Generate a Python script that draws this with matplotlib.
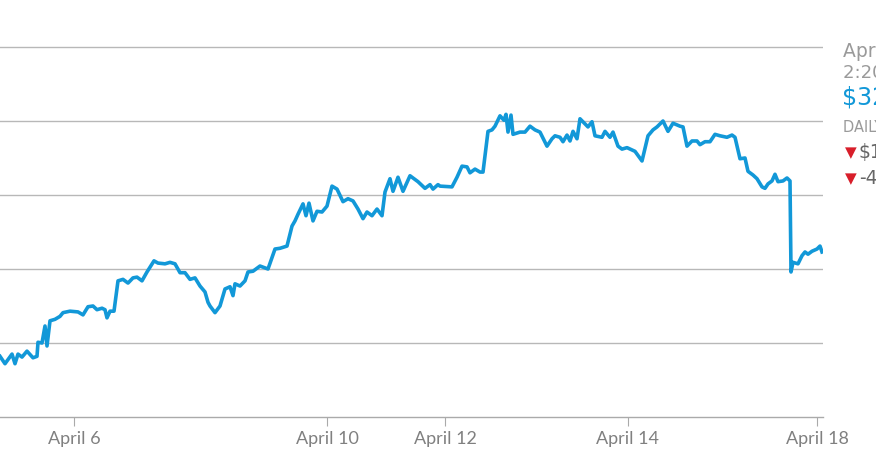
import matplotlib
matplotlib.use("Agg")
import matplotlib.pyplot as plt

# position along the time axis and price
t = [0, 5, 12, 15, 18, 22, 27, 33, 37, 38, 42, 45, 47, 50, 55, 60, 63, 70, 78, 83,
     88, 93, 97, 102, 105, 107, 110, 114, 118, 123, 128, 133, 137, 142, 147, 154, 158, 165, 170, 175,
     180, 185, 190, 195, 200, 205, 208, 210, 215, 220, 225, 230, 233, 235, 240, 245, 248, 253, 260, 268,
     275, 280, 287, 292, 295, 298, 303, 306, 309, 313, 317, 322, 327, 332, 337, 343, 348, 353, 358, 363,
     367, 372, 377, 382, 385, 390, 393, 398, 403, 410, 418, 425, 430, 433, 438, 440, 452, 457, 462, 467,
     470, 475, 480, 483, 488, 492, 495, 500, 504, 506, 508, 511, 513, 520, 525, 530, 535, 540, 547, 552,
     555, 560, 563, 567, 570, 573, 577, 580, 585, 588, 592, 595, 602, 605, 610, 613, 618, 622, 627, 635,
     642, 648, 653, 657, 663, 668, 673, 680, 683, 687, 692, 697, 700, 705, 710, 715, 720, 727, 732, 735,
     740, 745, 748, 753, 757, 762, 765, 768, 772, 775, 778, 783, 787, 790, 791, 793, 798, 802, 805, 808,
     812, 817, 820, 822]
price = [308.2, 307.2, 308.5, 307.2, 308.5, 308.1, 308.9, 308.0, 308.2, 310.1, 310.0, 312.3, 309.6, 313.0, 313.2, 313.6, 314.1, 314.3, 314.2, 313.8,
         314.9, 315.0, 314.5, 314.7, 314.5, 313.4, 314.3, 314.3, 318.4, 318.6, 318.1, 318.8, 318.9, 318.4, 319.6, 321.1, 320.8, 320.7, 320.9, 320.7,
         319.5, 319.5, 318.6, 318.8, 317.7, 316.9, 315.5, 315.0, 314.1, 315.0, 317.3, 317.6, 316.4, 318.0, 317.7, 318.4, 319.6, 319.7, 320.4, 320.0,
         322.7, 322.8, 323.1, 325.8, 326.5, 327.4, 328.8, 327.2, 328.9, 326.5, 327.8, 327.7, 328.5, 331.2, 330.8, 329.1, 329.5, 329.2, 328.1, 326.8,
         327.7, 327.2, 328.1, 327.2, 330.4, 332.2, 330.5, 332.4, 330.5, 332.6, 331.8, 330.9, 331.4, 330.8, 331.4, 331.2, 331.1, 332.4, 333.9, 333.8,
         333.0, 333.5, 333.1, 333.1, 338.6, 338.8, 339.3, 340.7, 340.1, 340.9, 338.5, 340.8, 338.2, 338.5, 338.5, 339.3, 338.8, 338.5, 336.6, 337.6,
         338.0, 337.8, 337.2, 338.1, 337.3, 338.6, 337.6, 340.3, 339.6, 339.2, 339.9, 338.0, 337.8, 338.6, 337.8, 338.5, 336.6, 336.2, 336.4, 335.9,
         334.6, 338.0, 338.8, 339.2, 340.0, 338.6, 339.7, 339.3, 339.2, 336.6, 337.3, 337.3, 336.8, 337.2, 337.2, 338.2, 338.0, 337.8, 338.1, 337.8,
         334.9, 335.0, 333.2, 332.7, 332.2, 331.1, 330.9, 331.5, 331.9, 332.8, 331.8, 331.9, 332.3, 331.9, 319.6, 320.9, 320.7, 321.8, 322.3, 322.0,
         322.4, 322.7, 323.1, 322.3]

tick_pos = [74, 327, 445, 628, 817]
tick_labels = ["April 6", "April 10", "April 12", "April 14", "April 18"]
grid_levels = [310, 320, 330, 340, 350]

W, H = 876, 464
fig = plt.figure(figsize=(W / 100, H / 100), dpi=100)
ax = fig.add_axes([0, (H - 418) / H, 823 / W, (418 - 30) / H])

for g in grid_levels:
    ax.axhline(g, color="#b8b8b8", lw=1.0, zorder=1)

ax.plot(t, price, color="#1298d8", lw=2.6, solid_joinstyle="round", zorder=3)

ax.set_xlim(0, 823)
ax.set_ylim(300, 300 + 388 / 7.4)
for s in ["top", "left", "right"]:
    ax.spines[s].set_visible(False)
ax.spines["bottom"].set_color("#aaaaaa")
ax.spines["bottom"].set_linewidth(1.0)
ax.set_yticks([])
ax.set_xticks(tick_pos)
ax.set_xticklabels(tick_labels, family="Lato", fontsize=13, color="#808080")
ax.tick_params(axis="x", length=6.5, width=0.8, color="#aaaaaa", pad=3)

# side panel, cut off by the edge of the picture
side = dict(family="DejaVu Sans", va="center")
fig.text(843 / W, 1 - 52 / H, "April 17", color="#9a9a9a", fontsize=13.5, **side)
fig.text(843 / W, 1 - 73 / H, "2:20 PM EDT", color="#9a9a9a", fontsize=13, **side)
fig.text(842 / W, 1 - 98 / H, "$322.85", color="#1298d8", fontsize=17, **side)
fig.text(843 / W, 1 - 128 / H, "DAILY CHANGE", color="#9a9a9a", fontsize=10.5, **side)
fig.text(845 / W, 1 - 153 / H, "\u25bc", color="#d81e2a", fontsize=11, **side)
fig.text(859 / W, 1 - 153 / H, "$10.40", color="#666666", fontsize=13.5, **side)
fig.text(845 / W, 1 - 179 / H, "\u25bc", color="#d81e2a", fontsize=11, **side)
fig.text(859 / W, 1 - 179 / H, "-4.10%", color="#666666", fontsize=13.5, **side)

fig.savefig("out.png", dpi=100)
